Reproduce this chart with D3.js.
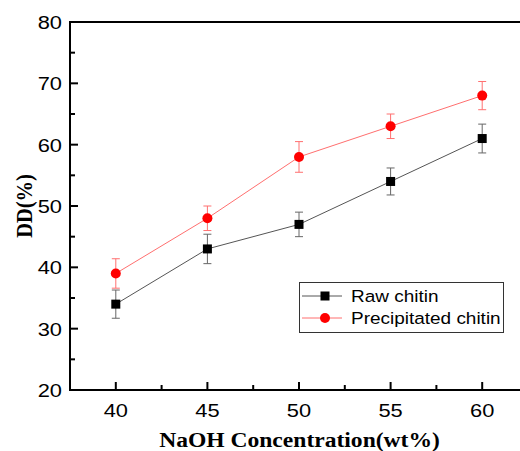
<!DOCTYPE html>
<html>
<head>
<meta charset="utf-8">
<style>
    body { margin: 0; background: #fff; }
    .tick-label { font-family: Arial, "Liberation Sans", sans-serif; font-size: 19px; fill: #000; }
    .axis-title { font-family: "Times New Roman", "Liberation Serif", serif; font-weight: bold; font-size: 20.5px; fill: #000; }
    .legend text { font-family: Arial, "Liberation Sans", sans-serif; font-size: 16.5px; fill: #000; }
</style>
</head>
<body>
<div id="target"></div>
<script src="https://cdnjs.cloudflare.com/ajax/libs/d3/7.8.5/d3.min.js"></script>
<script>
    // data
    var naoh = [40, 45, 50, 55, 60];
    var rawDD = [34, 43, 47, 54, 61];
    var rawErr = [2.3, 2.4, 2.0, 2.2, 2.35];
    var precDD = [39, 48, 58, 63, 68];
    var precErr = [2.4, 2.0, 2.5, 2.0, 2.3];
    var xTicks = [40, 45, 50, 55, 60];
    var yTicks = [20, 30, 40, 50, 60, 70, 80];

    var series = [
        {name: 'Raw chitin', y: rawDD, err: rawErr, shape: 'square', color: '#000', line: '#555', bar: '#666'},
        {name: 'Precipitated chitin', y: precDD, err: precErr, shape: 'circle', color: '#ff0000', line: '#ff6f6f', bar: '#ff7070'}
    ];

    var W = 520, H = 451;
    var pLeft = 70, pTop = 22, pRight = 528, pBottom = 390;
    var stretch = 1.15; // source picture is a bit wider than tall

    var svg = d3.select('#target').append('svg')
        .attr('width', W).attr('height', H);

    var x = d3.scaleLinear().domain([37.5, 62.5]).range([pLeft, pRight]);
    var y = d3.scaleLinear().domain([20, 80]).range([pBottom, pTop]);

    // horizontal text, widened to match the original
    var putText = function (g, cls, tx, ty, anchor, str) {
        return g.append('text').attr('class', cls)
            .attr('transform', 'translate(' + tx + ',' + ty + ') scale(' + stretch + ',1)')
            .attr('text-anchor', anchor)
            .text(str);
    };

    // frame: left, bottom, top (right side runs off the page) as filled bars
    svg.append('rect').attr('x', pLeft - 1).attr('y', pTop - 1).attr('width', 2).attr('height', pBottom - pTop + 2).attr('fill', '#000');
    svg.append('rect').attr('x', pLeft - 1).attr('y', pBottom - 1).attr('width', W).attr('height', 2).attr('fill', '#000');
    svg.append('rect').attr('x', pLeft - 1).attr('y', pTop - 1).attr('width', W).attr('height', 2).attr('fill', '#000');

    // y ticks (inside)
    var yMinor = d3.range(25, 80, 10);
    svg.append('g').selectAll('line').data(yTicks).enter().append('line')
        .attr('x1', pLeft).attr('x2', pLeft + 8)
        .attr('y1', function (d) { return y(d); }).attr('y2', function (d) { return y(d); })
        .attr('stroke', '#000').attr('stroke-width', 2);
    svg.append('g').selectAll('line').data(yMinor).enter().append('line')
        .attr('x1', pLeft).attr('x2', pLeft + 5)
        .attr('y1', function (d) { return y(d); }).attr('y2', function (d) { return y(d); })
        .attr('stroke', '#000').attr('stroke-width', 2);
    var gy = svg.append('g');
    yTicks.forEach(function (d) {
        putText(gy, 'tick-label', pLeft - 8, y(d) + 7, 'end', d);
    });

    // x ticks (inside)
    var xMinor = d3.range(42.5, 62.5, 5);
    svg.append('g').selectAll('line').data(xTicks).enter().append('line')
        .attr('x1', function (d) { return x(d); }).attr('x2', function (d) { return x(d); })
        .attr('y1', pBottom).attr('y2', pBottom - 8)
        .attr('stroke', '#000').attr('stroke-width', 2);
    svg.append('g').selectAll('line').data(xMinor).enter().append('line')
        .attr('x1', function (d) { return x(d); }).attr('x2', function (d) { return x(d); })
        .attr('y1', pBottom).attr('y2', pBottom - 5)
        .attr('stroke', '#000').attr('stroke-width', 2);
    var gx = svg.append('g');
    xTicks.forEach(function (d) {
        putText(gx, 'tick-label', x(d), pBottom + 27, 'middle', d);
    });

    // axis titles
    putText(svg, 'axis-title', 299.5, 447, 'middle', 'NaOH Concentration(wt%)');
    svg.append('text').attr('class', 'axis-title')
        .attr('transform', 'translate(32,206) rotate(-90) scale(1,' + stretch + ')')
        .attr('text-anchor', 'middle')
        .text('DD(%)');

    var lineGen = d3.line()
        .x(function (d) { return x(d[0]); })
        .y(function (d) { return y(d[1]); });

    var drawMarker = function (g, s, cx, cy) {
        if (s.shape === 'square') {
            g.append('rect').attr('x', cx - 4.5).attr('y', cy - 4.5)
                .attr('width', 9).attr('height', 9).attr('fill', s.color);
        } else {
            g.append('circle').attr('cx', cx).attr('cy', cy).attr('r', 5).attr('fill', s.color);
        }
    };

    series.forEach(function (s) {
        var pts = naoh.map(function (v, i) { return [v, s.y[i], s.err[i]]; });
        var g = svg.append('g');
        g.append('path').datum(pts).attr('d', lineGen)
            .attr('fill', 'none').attr('stroke', s.line).attr('stroke-width', 1);
        // error bars
        pts.forEach(function (p) {
            var cx = x(p[0]), y1 = y(p[1] + p[2]), y2 = y(p[1] - p[2]);
            g.append('path')
                .attr('d', 'M' + cx + ',' + y1 + 'V' + y2 + 'M' + (cx - 4) + ',' + y1 + 'H' + (cx + 4) + 'M' + (cx - 4) + ',' + y2 + 'H' + (cx + 4))
                .attr('stroke', s.bar).attr('stroke-width', 1).attr('fill', 'none');
        });
        pts.forEach(function (p) { drawMarker(g, s, x(p[0]), y(p[1])); });
    });

    // legend
    var lg = svg.append('g').attr('class', 'legend');
    lg.append('rect').attr('x', 299.5).attr('y', 282.5).attr('width', 204).attr('height', 50)
        .attr('fill', '#fff').attr('stroke', '#333').attr('stroke-width', 1);
    series.forEach(function (s, i) {
        var ly = 296 + i * 22;
        lg.append('line').attr('x1', 302).attr('x2', 342).attr('y1', ly).attr('y2', ly)
            .attr('stroke', s.line).attr('stroke-width', 1);
        drawMarker(lg, s, 325, ly);
        putText(lg, null, 351, ly + 6, 'start', s.name);
    });
</script>
</body>
</html>
